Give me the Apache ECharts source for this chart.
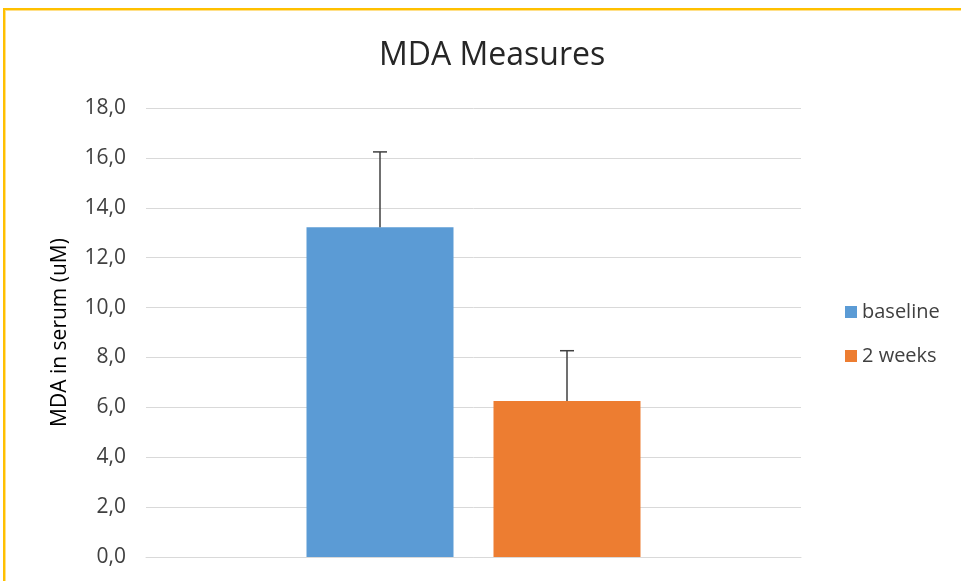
<!DOCTYPE html>
<html>
<head>
<meta charset="utf-8">
<script src="https://cdn.jsdelivr.net/npm/echarts@6/dist/echarts.min.js"></script>
<style>
	html, body { margin: 0; padding: 0; background: #fff; }
	#wrap { position: relative; width: 961px; height: 581px; overflow: hidden; }
	#frame { position: absolute; left: 3px; top: 8px; width: 1000px; height: 600px; border-left: 2px solid #FFC000; border-top: 2px solid #FFC000; box-shadow: inset 1px 1px 0 #FFE08A; }
	#chart { position: absolute; left: 0; top: 0; width: 961px; height: 581px; }
</style>
</head>
<body>
<div id="wrap">
	<div id="frame"></div>
	<div id="chart"></div>
</div>
<script>
// data
var categories = [''];
var seriesNames = ['baseline', '2 weeks'];
var baselineValues = [13.22];
var weeksValues = [6.25];
var baselineErr = [3.02];
var weeksErr = [2.02];
var yTicks = [0, 2, 4, 6, 8, 10, 12, 14, 16, 18];

var colors = ['#5B9BD5', '#ED7D31'];
var barW = 147;
var barGapPx = 40;

var chart = echarts.init(document.getElementById('chart'));

function errSeries(name, values, errs, offset) {
	return {
		type: 'custom',
		name: name + ' err',
		z: 5,
		silent: true,
		data: values.map(function (v, i) { return [i, v, errs[i]]; }),
		renderItem: function (params, api) {
			var base = api.coord([api.value(0), api.value(1)]);
			var top = api.coord([api.value(0), api.value(1) + api.value(2)]);
			var x = base[0] + offset;
			var st = { stroke: '#404040', lineWidth: 1.5 };
			return {
				type: 'group',
				children: [
					{ type: 'line', shape: { x1: x, y1: base[1], x2: x, y2: top[1] }, style: st },
					{ type: 'line', shape: { x1: x - 7, y1: top[1], x2: x + 7, y2: top[1] }, style: st }
				]
			};
		}
	};
}

var off = (barW + barGapPx) / 2;

var option = {
	animation: false,
	title: {
		text: 'MDA Measures',
		left: 374,
		top: 35,
		textStyle: { fontFamily: 'Open Sans', fontSize: 32, fontWeight: 'normal', color: '#262626' }
	},
	legend: {
		data: seriesNames,
		orient: 'vertical',
		left: 840,
		top: 297,
		icon: 'rect',
		itemWidth: 12,
		itemHeight: 12,
		itemGap: 24,
		textStyle: { fontFamily: 'Open Sans', fontSize: 20, color: '#404040' }
	},
	grid: {
		left: 146,
		right: 160,
		top: 108,
		bottom: 24,
		outerBoundsMode: 'none'
	},
	xAxis: {
		type: 'category',
		data: categories,
		axisLine: { show: true, lineStyle: { color: '#D9D9D9' } },
		axisTick: { show: false },
		axisLabel: { show: false }
	},
	yAxis: {
		type: 'value',
		min: yTicks[0],
		max: yTicks[yTicks.length - 1],
		interval: 2,
		axisLine: { show: false },
		axisTick: { show: false },
		splitLine: { lineStyle: { color: '#D9D9D9' } },
		axisLabel: {
			margin: 20,
			fontFamily: 'Open Sans',
			fontSize: 21,
			color: '#404040',
			formatter: function (v) { return v.toFixed(1).replace('.', ','); }
		},
		name: 'MDA in serum (uM)',
		nameLocation: 'middle',
		nameGap: 75,
		nameTextStyle: { fontFamily: 'Open Sans', fontSize: 21, color: '#000' }
	},
	series: [
		{
			type: 'bar',
			name: seriesNames[0],
			data: baselineValues,
			barWidth: barW,
			barGap: (barGapPx / barW * 100) + '%',
			itemStyle: { color: colors[0] }
		},
		{
			type: 'bar',
			name: seriesNames[1],
			data: weeksValues,
			barWidth: barW,
			itemStyle: { color: colors[1] }
		},
		errSeries(seriesNames[0], baselineValues, baselineErr, -off),
		errSeries(seriesNames[1], weeksValues, weeksErr, off)
	]
};
chart.setOption(option);
</script>
</body>
</html>
